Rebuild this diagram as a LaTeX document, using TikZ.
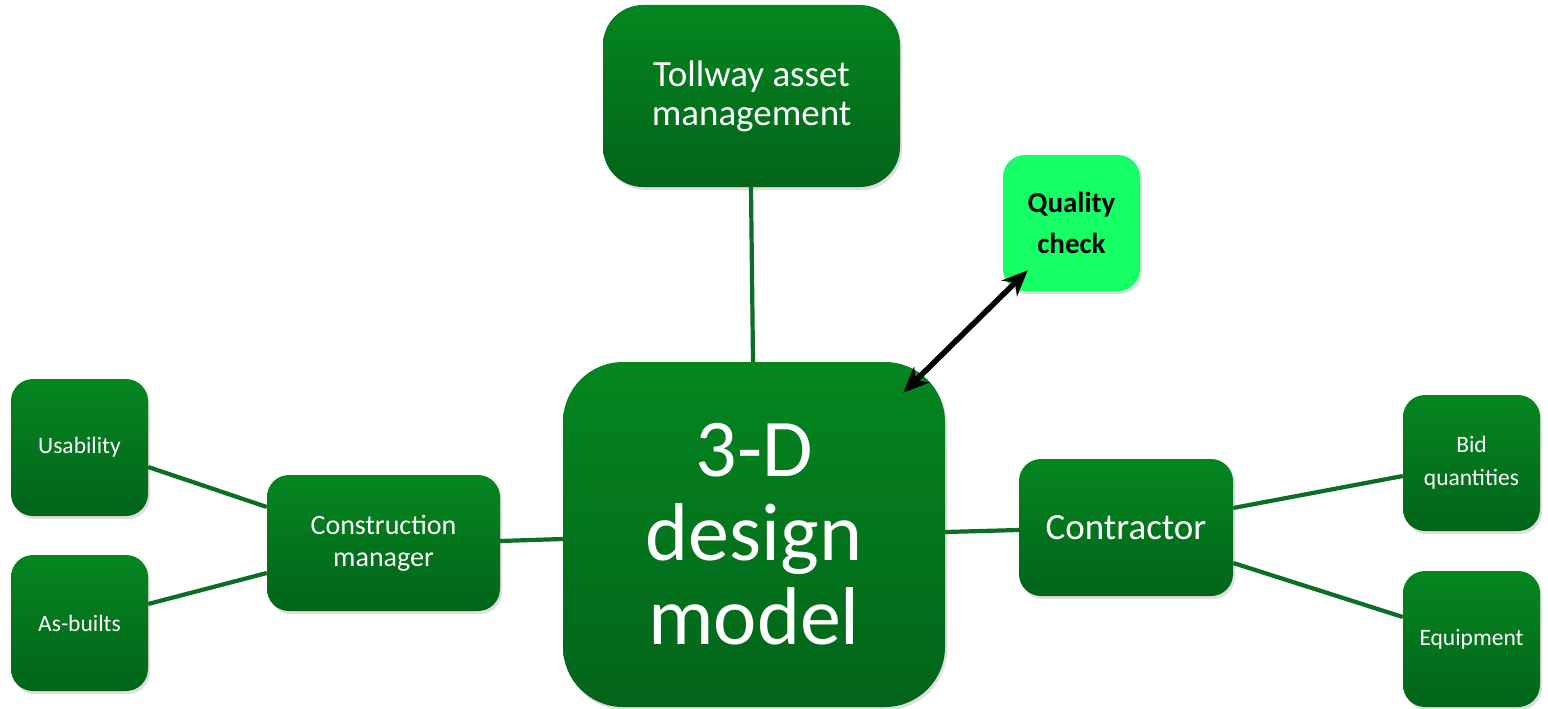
\documentclass[tikz,border=0pt]{standalone}
\usepackage{fontspec}
\setmainfont{Carlito}
\usetikzlibrary{arrows.meta,shadows,calc}
\definecolor{boxtop}{HTML}{04861F}
\definecolor{boxbot}{HTML}{03641A}
\definecolor{qcfill}{HTML}{17FF66}
\definecolor{linkgreen}{HTML}{0A6E25}
\newcommand{\fs}[2]{\fontsize{#1}{#2}\selectfont}
\tikzset{
  gbox/.style={rounded corners=#1, top color=boxtop, bottom color=boxbot,
    draw=none, text=white, align=center, inner sep=0pt,
    drop shadow={opacity=0.25, shadow xshift=2pt, shadow yshift=-3pt}},
  gbox/.default=22pt,
  link/.style={draw=linkgreen, line width=4.2pt}
}
\begin{document}
\begin{tikzpicture}[x=1pt,y=-1pt]
\useasboundingbox (0,0) rectangle (1548,709);
\fill[white] (0,0) rectangle (1548,709);

% central model
\node[gbox=60pt, minimum width=382pt, minimum height=345pt, font=\fs{82}{84}] (main) at (754,534.5)
  {3-D\\design\\model};
% top box
\node[gbox=40pt, minimum width=297pt, minimum height=182pt, font=\fs{37}{39}] (toll) at (751.5,96)
  {Tollway asset\\management};
% quality check
\node[rounded corners=22pt, fill=qcfill, text=black, align=center, inner sep=0pt,
  minimum width=137pt, minimum height=136pt, font=\fs{29}{41}\bfseries,
  drop shadow={opacity=0.25, shadow xshift=2pt, shadow yshift=-3pt}] (qc) at (1071.5,223)
  {Quality\\check};
% left side
\node[gbox, minimum width=233pt, minimum height=136pt, font=\fs{28}{32}] (cm) at (383.5,543)
  {Construction\\manager};
\node[gbox, minimum width=137pt, minimum height=137pt, font=\fs{23.5}{28}] (us) at (79.5,447.5)
  {Usability};
\node[gbox, minimum width=137pt, minimum height=136pt, font=\fs{23.5}{28}] (ab) at (79.5,623)
  {As-builts};
% right side
\node[gbox, minimum width=214pt, minimum height=137pt, font=\fs{37}{44}] (con) at (1126,527.5)
  {Contractor};
\node[gbox, minimum width=137pt, minimum height=136pt, font=\fs{23.5}{33}] (bid) at (1471.5,463)
  {Bid\\quantities};
\node[gbox, minimum width=137pt, minimum height=136pt, font=\fs{23.5}{28}] (eq) at (1471.5,639)
  {Equipment};

% connectors
\draw[link] ([xshift=-0.5pt]toll.south) -- ([xshift=-1pt]main.north);
\draw[link] ([yshift=2pt]cm.east) -- ([yshift=-4.5pt]main.west);
\draw[link] ([yshift=2.5pt]main.east) -- ([yshift=-2.5pt]con.west);
\draw[link] ([yshift=-19.5pt]us.east) -- ([yshift=36pt]cm.west);
\draw[link] ([yshift=19pt]ab.east) -- ([yshift=-30pt]cm.west);
\draw[link] ([yshift=19.5pt]con.east) -- ([yshift=-13pt]bid.west);
\draw[link] ([yshift=-35.5pt]con.east) -- ([yshift=22pt]eq.west);

% two-way link to the quality check
\draw[line width=5.5pt, {Stealth[length=26pt,width=22pt]}-{Stealth[length=26pt,width=22pt]}]
  ($(main.north east)+(-42,31)$) -- ($(qc.south west)+(25,-21)$);
\end{tikzpicture}
\end{document}
